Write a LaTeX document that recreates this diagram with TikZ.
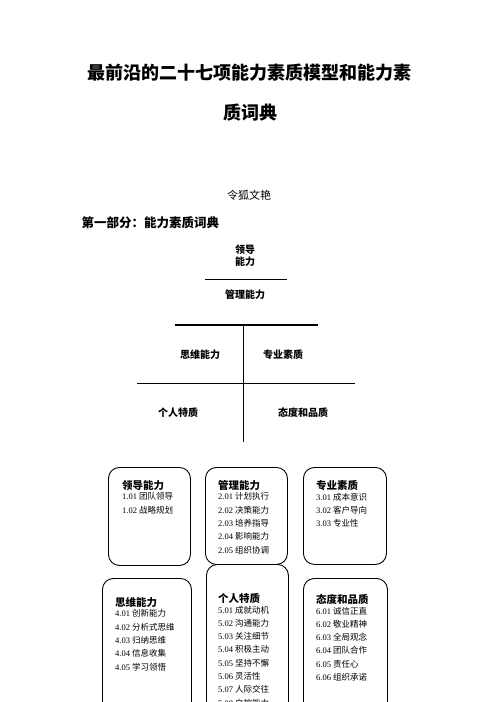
\documentclass[tikz,border=0pt]{standalone}
\usepackage{fontspec}
\setmainfont{Liberation Serif}
\newfontfamily\cjk{Noto Sans CJK SC}
\usepackage{tikz}
\usetikzlibrary{positioning}
\newcommand{\itm}[2]{{\rmfamily #1} {\cjk #2}}
\newcommand{\hd}[1]{{\cjk\bfseries\fontsize{10.5}{12}\selectfont #1}}

\begin{document}
\begin{tikzpicture}[
    x=1pt, y=-1pt,
    ttl/.style={font=\cjk\bfseries\fontsize{18}{18}\selectfont},
    lbl/.style={font=\cjk\bfseries\fontsize{10}{12}\selectfont, align=center},
    rule/.style={draw=black, line width=0.8pt},
    card/.style={draw=black, line width=0.9pt, rounded corners=11pt, anchor=north west, inner sep=0pt},
    list/.style={anchor=north west, align=left, inner sep=0pt, font=\fontsize{8.5}{13.3}\selectfont}
]

\useasboundingbox (0,0) rectangle (496,702);
\clip (0,0) rectangle (496,702);
\fill[white] (0,0) rectangle (496,702);

% ── Título ────────────────────────────────────────────────────
\node[ttl] (title1) at (249,73) {最前沿的二十七项能力素质模型和能力素};
\node[ttl] (title2) at (250,113) {质词典};
\node[font=\cjk\fontsize{11}{13}\selectfont] (author) at (249,195) {令狐文艳};
\node[font=\cjk\bfseries\fontsize{12.5}{14}\selectfont, anchor=west] (part1) at (78,223) {第一部分：能力素质词典};

% ── Modelo (T) ────────────────────────────────────────────────
\node[lbl] (lead) at (245,256) {领导\\能力};
\draw[rule] (205,279) -- (287,279);
\node[lbl] (mgmt) at (245,295) {管理能力};
\draw[draw=black, line width=1.6pt] (175,325) -- (318,325);
\draw[rule] (243,325) -- (243,442);
\draw[rule] (137,383) -- (355,383);
\node[lbl] (think) at (200,355) {思维能力};
\node[lbl] (prof) at (283,355) {专业素质};
\node[lbl] (pers) at (178,413) {个人特质};
\node[lbl] (attd) at (303,413) {态度和品质};

% ── Cartões: primeira linha ───────────────────────────────────
\node[card, minimum width=82pt, minimum height=98pt] (b1) at (108,467) {};
\node[list] (l1) at (122,480) {\hd{领导能力}\\[-2.6pt]
    \itm{1.01}{团队领导}\\ \itm{1.02}{战略规划}};

\node[card, minimum width=82pt, minimum height=97pt] (b2) at (205,467) {};
\node[list] (l2) at (218,480) {\hd{管理能力}\\[-2.6pt]
    \itm{2.01}{计划执行}\\ \itm{2.02}{决策能力}\\ \itm{2.03}{培养指导}\\
    \itm{2.04}{影响能力}\\ \itm{2.05}{组织协调}};

\node[card, minimum width=83pt, minimum height=97pt] (b3) at (303,467) {};
\node[list] (l3) at (316,480) {\hd{专业素质}\\[-2.6pt]
    \itm{3.01}{成本意识}\\ \itm{3.02}{客户导向}\\ \itm{3.03}{专业性}};

% ── Cartões: segunda linha ────────────────────────────────────
\node[card, minimum width=89pt, minimum height=150pt] (b4) at (102,578) {};
\node[list] (l4) at (115,597) {\hd{思维能力}\\[-2.6pt]
    \itm{4.01}{创新能力}\\ \itm{4.02}{分析式思维}\\ \itm{4.03}{归纳思维}\\
    \itm{4.04}{信息收集}\\ \itm{4.05}{学习领悟}};

\node[card, minimum width=82pt, minimum height=160pt] (b5) at (206,564) {};
\node[list] (l5) at (218,593) {\hd{个人特质}\\[-2.6pt]
    \itm{5.01}{成就动机}\\ \itm{5.02}{沟通能力}\\ \itm{5.03}{关注细节}\\
    \itm{5.04}{积极主动}\\ \itm{5.05}{坚持不懈}\\ \itm{5.06}{灵活性}\\
    \itm{5.07}{人际交往}\\ \itm{5.08}{自控能力}};

\node[card, minimum width=84pt, minimum height=150pt] (b6) at (303,578) {};
\node[list] (l6) at (316,594) {\hd{态度和品质}\\[-2.6pt]
    \itm{6.01}{诚信正直}\\ \itm{6.02}{敬业精神}\\ \itm{6.03}{全局观念}\\
    \itm{6.04}{团队合作}\\ \itm{6.05}{责任心}\\ \itm{6.06}{组织承诺}};

\end{tikzpicture}
\end{document}
